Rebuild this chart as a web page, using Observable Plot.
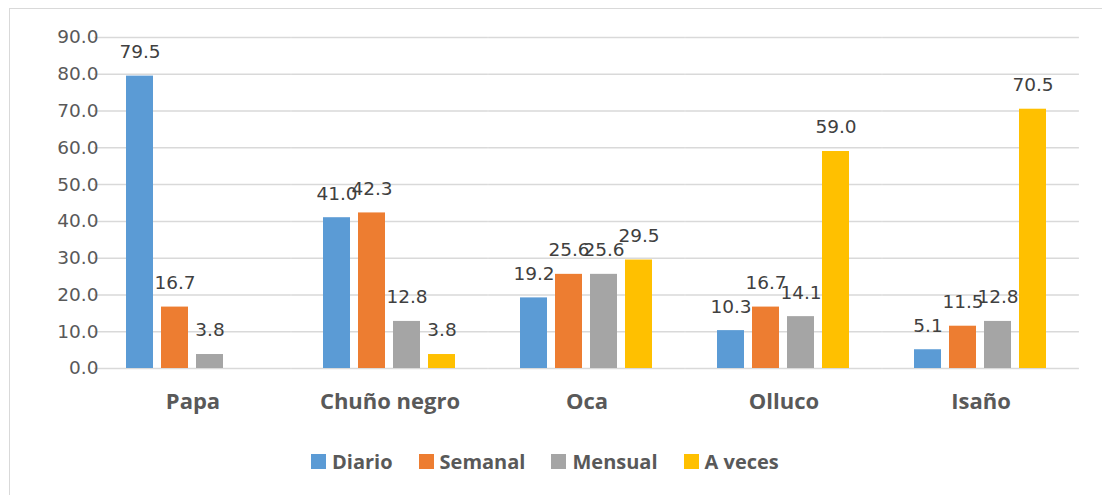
<!DOCTYPE html>
<html>
<head>
<meta charset="utf-8">
<script src="https://cdn.jsdelivr.net/npm/d3@7"></script>
<script src="https://cdn.jsdelivr.net/npm/@observablehq/plot@0.6"></script>
<style>
  html, body { margin: 0; padding: 0; background: #fff; overflow: hidden; }
  #frame { position: absolute; left: 9px; top: 8px; width: 1100px; height: 500px; border: 1.5px solid #d9d9d9; pointer-events: none; }
  #chart { position: absolute; left: 0; top: 0; }
  #legend { position: absolute; left: 311px; top: 448px; display: flex; align-items: center;
            font-family: "Open Sans", sans-serif; font-weight: 700; font-size: 20px; color: #595959; }
  .item { display: flex; align-items: center; margin-right: 26px; }
  .sw { width: 15px; height: 15px; margin-right: 6px; }
</style>
</head>
<body>
<div id="chart"></div>
<div id="legend"></div>
<div id="frame"></div>
<script>
const categories = ["Papa", "Chuño negro", "Oca", "Olluco", "Isaño"];
const series = ["Diario", "Semanal", "Mensual", "A veces"];
const diario  = [79.5, 41.0, 19.2, 10.3, 5.1];
const semanal = [16.7, 42.3, 25.6, 16.7, 11.5];
const mensual = [3.8, 12.8, 25.6, 14.1, 12.8];
const aveces  = [null, 3.8, 29.5, 59.0, 70.5];
const colors  = ["#5B9BD5", "#ED7D31", "#A5A5A5", "#FFC000"];
const yTicks  = [0, 10, 20, 30, 40, 50, 60, 70, 80, 90];

const seriesValues = [diario, semanal, mensual, aveces];
const data = [];
categories.forEach((c, i) => {
  series.forEach((s, j) => {
    const v = seriesValues[j][i];
    if (v != null) data.push({cat: c, series: s, value: v});
  });
});

const W = 1102, ML = 92, MR = 21;
const step = (W - ML - MR) / categories.length;
const fxPad = 0.272;
const gapHalf = step * fxPad / 2;

const chart = Plot.plot({
  width: W,
  height: 430,
  marginLeft: ML,
  marginRight: MR,
  marginTop: 37,
  marginBottom: 62,
  style: {fontFamily: "DejaVu Sans, sans-serif", background: "transparent", overflow: "visible"},
  fx: {domain: categories, paddingInner: fxPad, paddingOuter: fxPad / 2, label: null},
  x: {domain: series, paddingInner: 0.22, paddingOuter: 0.11, axis: null},
  y: {domain: [0, 90], label: null},
  color: {domain: series, range: colors},
  marks: [
    Plot.ruleY(yTicks, {stroke: "#d9d9d9", strokeWidth: 1.5, insetLeft: -gapHalf, insetRight: -gapHalf}),
    Plot.axisY({ticks: yTicks, tickFormat: d => d.toFixed(1), tickSize: 0, tickPadding: 23,
                fontSize: 18.5, fill: "#595959", label: null}),
    Plot.axisFx({anchor: "bottom", tickSize: 0, tickPadding: 25, fontSize: 22, fontWeight: 700,
                 fontFamily: "Open Sans, sans-serif", fill: "#595959", label: null}),
    Plot.barY(data, {fx: "cat", x: "series", y: "value", fill: "series"}),
    Plot.text(data, {fx: "cat", x: "series", y: "value", text: d => d.value.toFixed(1),
                     dy: -24, fontSize: 18.5, fill: "#404040"})
  ]
});
document.getElementById("chart").appendChild(chart);

const legend = document.getElementById("legend");
series.forEach((s, i) => {
  const item = document.createElement("div");
  item.className = "item";
  const sw = document.createElement("div");
  sw.className = "sw";
  sw.style.background = colors[i];
  const t = document.createElement("span");
  t.textContent = s;
  item.appendChild(sw);
  item.appendChild(t);
  legend.appendChild(item);
});
</script>
</body>
</html>
